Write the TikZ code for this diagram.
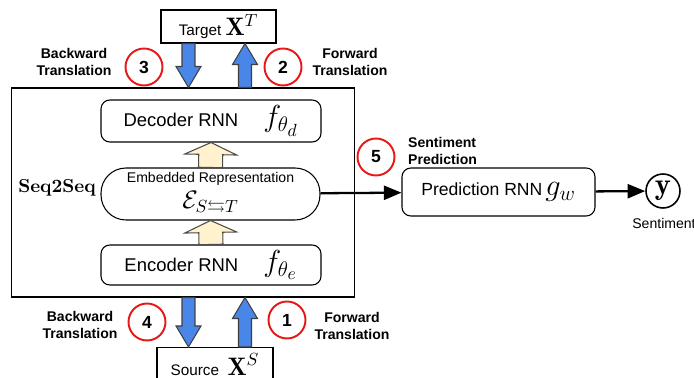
\documentclass[tikz,border=0pt]{standalone}
\usepackage{fontspec}
\usepackage{amsmath,amssymb}
\setsansfont{Liberation Sans}
\usepackage{tikz}
\usetikzlibrary{calc,arrows.meta}
\definecolor{arrblue}{HTML}{4A86E8}
\definecolor{arrbeige}{HTML}{FFF2CC}
\definecolor{numred}{HTML}{E81818}
\newcommand\blockarrow[6]{%
	\coordinate (ba-s) at (#5);
	\coordinate (ba-e) at (#6);
	\coordinate (ba-h) at ($(ba-e)!#4!(ba-s)$);
	\draw[#1] ($(ba-s)!#2!90:(ba-e)$) -- ($(ba-h)!#2!90:(ba-e)$) -- ($(ba-h)!#3!90:(ba-e)$) -- (ba-e) -- ($(ba-h)!#3!-90:(ba-e)$) -- ($(ba-h)!#2!-90:(ba-e)$) -- ($(ba-s)!#2!-90:(ba-e)$) -- cycle;}
\newcommand\bluearrow[2]{\blockarrow{bluefill}{0.13cm}{0.25cm}{0.42cm}{#1}{#2}}
\newcommand\beigearrow[2]{\blockarrow{beigefill}{0.24cm}{0.52cm}{0.24cm}{#1}{#2}}

\begin{document}
\begin{tikzpicture}[x=0.02cm, y=-0.02cm,
	bluefill/.style={fill=arrblue, draw=black!75, line width=0.6pt},
	beigefill/.style={fill=arrbeige, draw=black!70, line width=0.6pt},
	plainbox/.style={draw, line width=0.6pt, inner sep=2pt, font=\sffamily},
	rnnbox/.style={plainbox, rounded corners=5pt, minimum width=4.4cm},
	num/.style={circle, draw=numred, line width=1.1pt, fill=white, minimum size=0.74cm, inner sep=0pt, font=\sffamily\bfseries\fontsize{10}{11}\selectfont},
	note/.style={align=center, font=\sffamily\bfseries\fontsize{8}{9.5}\selectfont},
	outarrow/.style={line width=1.3pt, -{Triangle[length=10pt,width=8pt]}}]
	%%%%% START %%%%%
	\useasboundingbox (0,0) rectangle (694,378);

	\node[plainbox, minimum width=6.88cm, minimum height=4.18cm] (seq) at (183,192.5) {};
	\node[font=\bfseries\fontsize{10.7}{12}\selectfont] (seqlabel) at (57,188) {Seq2Seq};

	\node[rnnbox, minimum height=0.84cm] (decoder) at (211,121) {\fontsize{10.5}{12}\selectfont Decoder RNN\hspace{0.5cm}{\LARGE$f_{\theta_d}$}};
	\node[rnnbox, rounded corners=0.5cm, minimum width=4.38cm, minimum height=1.04cm, align=center, inner sep=1pt] (embed) at (210.5,194) {\fontsize{8}{9}\selectfont Embedded Representation\\[3pt] {\Large$\mathcal{E}_{S\leftrightarrows T}$}};
	\node[rnnbox, minimum height=0.8cm] (encoder) at (211,265) {\fontsize{10.5}{12}\selectfont Encoder RNN\hspace{0.5cm}{\LARGE$f_{\theta_e}$}};

	\beigearrow{embed.north}{decoder.south}
	\beigearrow{encoder.north}{embed.south}

	\node[plainbox, minimum width=2.3cm, minimum height=0.66cm] (target) at (218.5,26.5) {\fontsize{8.7}{10}\selectfont Target\ {\Large$\mathbf{X}^{T}$}};
	\node[plainbox, minimum width=2.32cm, minimum height=0.68cm] (source) at (215,364.5) {\fontsize{8.7}{10}\selectfont Source\ \ {\Large$\mathbf{X}^{S}$}};

	\coordinate (bwd) at (188.5,0);
	\coordinate (fwd) at (245,0);
	\bluearrow{target.south -| bwd}{seq.north -| bwd}
	\bluearrow{seq.north -| fwd}{target.south -| fwd}
	\bluearrow{seq.south -| bwd}{source.north -| bwd}
	\bluearrow{source.north -| fwd}{seq.south -| fwd}

	\node[num] (n3) at (144,67) {3};
	\node[num] (n2) at (283,67) {2};
	\node[num] (n4) at (147,322) {4};
	\node[num] (n1) at (287,320) {1};
	\node[num] (n5) at (376,157) {5};

	\node[note] (bt1) at (74,62) {Backward\\Translation};
	\node[note] (ft1) at (350,62) {Forward\\Translation};
	\node[note] (bt2) at (80,325) {Backward\\Translation};
	\node[note] (ft2) at (352,326) {Forward\\Translation};
	\node[note, align=left, anchor=west] (sp) at (402,151) {Sentiment\\Prediction};

	\node[rnnbox, minimum width=3.86cm, minimum height=0.96cm] (pred) at (498.5,192) {\fontsize{10}{12}\selectfont Prediction RNN\,{\LARGE$g_w$}};
	\node[circle, draw, line width=0.9pt, minimum size=0.68cm, inner sep=0pt] (ycirc) at (663,191) {\LARGE$\mathbf{y}$};
	\node[font=\sffamily\fontsize{8}{9}\selectfont] (ylabel) at (664,223) {Sentiment};

	\draw[outarrow] (embed) -- (pred);
	\draw[outarrow] (pred) -- (ycirc);
	%%%%% END %%%%%
\end{tikzpicture}
\end{document}
